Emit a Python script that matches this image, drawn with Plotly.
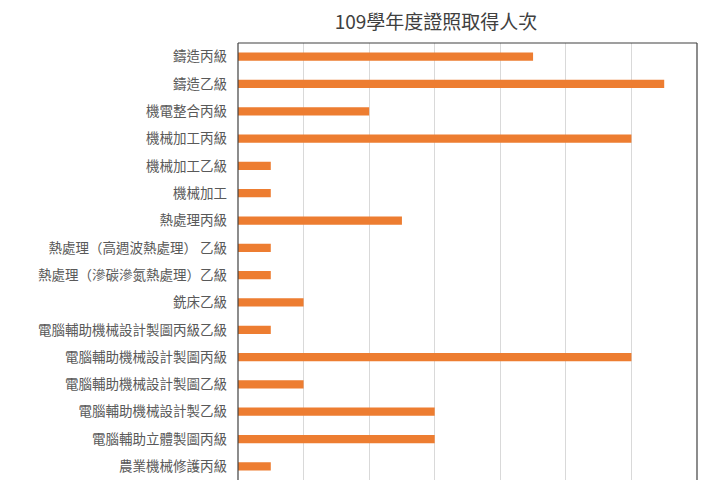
import plotly.graph_objects as go

categories = [
    "鑄造丙級",
    "鑄造乙級",
    "機電整合丙級",
    "機械加工丙級",
    "機械加工乙級",
    "機械加工",
    "熱處理丙級",
    "熱處理（高週波熱處理） 乙級",
    "熱處理（滲碳滲氮熱處理）乙級",
    "銑床乙級",
    "電腦輔助機械設計製圖丙級乙級",
    "電腦輔助機械設計製圖丙級",
    "電腦輔助機械設計製圖乙級",
    "電腦輔助機械設計製乙級",
    "電腦輔助立體製圖丙級",
    "農業機械修護丙級",
]
values = [9, 13, 4, 12, 1, 1, 5, 1, 1, 2, 1, 12, 2, 6, 6, 1]

font_cjk = "Noto Sans CJK TC"

fig = go.Figure(
    go.Bar(
        x=values,
        y=categories,
        orientation="h",
        width=0.3,
        marker=dict(color="#ED7D31", line=dict(width=0)),
    )
)

fig.update_layout(
    width=720,
    height=480,
    margin=dict(l=230, r=31, t=35, b=8),
    paper_bgcolor="white",
    plot_bgcolor="white",
    showlegend=False,
    title=dict(
        text="109學年度證照取得人次",
        x=428 / 720,
        xref="container",
        xanchor="center",
        y=1 - 14 / 480,
        yref="container",
        yanchor="middle",
        font=dict(family=font_cjk, size=19, color="#404040"),
    ),
    font=dict(family=font_cjk, color="#595959"),
)

fig.update_xaxes(
    range=[0, 14],
    dtick=2,
    showgrid=True,
    gridcolor="#d9d9d9",
    gridwidth=1,
    showticklabels=False,
    zeroline=False,
    showline=False,
    ticks="",
)

fig.update_yaxes(
    range=[15.5, -0.5],
    type="category",
    showgrid=False,
    tickfont=dict(family=font_cjk, size=13.5, color="#595959"),
    ticks="",
    ticklabelstandoff=10,
    showline=False,
    zeroline=False,
)

# frame: left, top, right (bottom falls outside the picture)
for x0, y0, x1, y1 in [(0, 0, 0, 1), (0, 1, 1, 1), (1, 0, 1, 1)]:
    fig.add_shape(
        type="line", xref="paper", yref="paper",
        x0=x0, y0=y0, x1=x1, y1=y1,
        line=dict(color="#404040", width=1.2),
    )

fig.write_html("out.html")
